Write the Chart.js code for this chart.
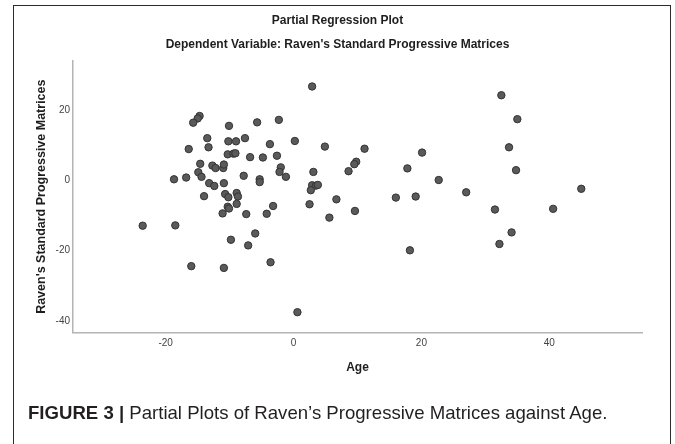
<!DOCTYPE html>
<html>
<head>
<meta charset="utf-8">
<script src="https://cdn.jsdelivr.net/npm/chart.js@4.4.1/dist/chart.umd.min.js"></script>
<style>
  html, body { margin: 0; padding: 0; background: #fff; }
  body { width: 675px; height: 444px; position: relative; overflow: hidden; font-family: "Liberation Sans", Arial, sans-serif; }
  .frame { position: absolute; left: 13px; top: 5px; width: 656px; height: 460px; border: 1.5px solid #2b2b2b; border-bottom: none; }
  #chart { position: absolute; left: 0; top: 0; }
  .caption { position: absolute; left: 28px; top: 402px; margin: 0; font-size: 18.6px; color: #231f20; white-space: nowrap; }
</style>
</head>
<body>
<div class="frame"></div>
<canvas id="chart" width="675" height="444"></canvas>
<p class="caption"><b>FIGURE 3 |</b> Partial Plots of Raven’s Progressive Matrices against Age.</p>
<script>
const FONT = `"Liberation Sans", Arial, sans-serif`;

// residuals (Age on x, Raven's SPM on y)
const ageResid = [
  2.9, -14.7, -15.0, -15.7, -5.7, -2.3, -10.1, -13.5, -10.2, -9.0,
  -7.6, 0.2, -3.7, -16.4, -13.3, 4.9, -10.3, -9.4, -9.1, -6.8,
  -4.8, -2.6, -14.6, -12.7, -12.2, -11.0, -10.9, -2.0, -2.2, -1.2,
  -14.9, -14.4, -16.8, -18.7, -7.8, -5.3, -5.3, 3.1, -13.2, -12.4,
  -10.9, 2.9, 3.5, 3.8, 2.7, -14.0, -10.7, -10.2, -8.9, -8.7,
  6.7, -8.9, -10.3, -10.1, -3.2, 2.5, -11.1, -7.4, -4.2, 5.6,
  -23.6, -18.5, -16.0, -10.9, -9.8, -7.1, -6.0, -3.6, 0.6, 9.6,
  16.0, 19.1, 31.5, 40.6, 34.1, 32.2, 18.2, 32.5, 35.0, 33.7,
  34.8, 45.0, 11.1, 20.1, 9.8, 9.5, 8.6, 17.8, 22.7, 27.0
];
const ravenResid = [
  26.7, 18.3, 17.6, 16.4, 16.5, 17.2, 15.5, 12.0, 11.1, 11.1,
  12.0, 11.2, 10.3, 8.9, 9.4, 9.6, 7.4, 7.6, 7.7, 6.6,
  6.5, 7.0, 4.7, 4.2, 3.5, 3.5, 4.5, 3.7, 2.4, 1.0,
  2.3, 1.0, 0.8, 0.3, 1.3, 0.3, -0.5, 2.4, -0.8, -1.6,
  -0.8, -1.4, -1.5, -1.3, -2.8, -4.5, -3.9, -4.8, -3.6, -4.6,
  -5.4, -6.7, -7.5, -8.0, -7.3, -6.8, -9.4, -9.6, -9.5, -10.6,
  -12.9, -12.8, -24.4, -24.9, -16.9, -18.5, -15.1, -23.3, -37.5, -8.7,
  -4.9, -4.6, -8.3, -8.1, -14.8, -18.1, -19.9, 24.2, 17.4, 9.4,
  2.9, -2.4, 9.0, 7.9, 5.3, 4.6, 2.6, 3.4, 0.1, -3.4
];

const xTicks = [-20, 0, 20, 40];
const yTicks = [-40, -20, 0, 20];

const points = ageResid.map((x, i) => ({x: x, y: ravenResid[i]}));

new Chart(document.getElementById(`chart`), {
  type: `scatter`,
  data: {
    datasets: [{
      data: points,
      backgroundColor: `#5a5a5a`,
      borderColor: `#333333`,
      borderWidth: 1,
      pointRadius: 3.7
    }]
  },
  options: {
    responsive: false,
    animation: false,
    layout: {
      // symmetric side padding keeps the titles centred on the page
      padding: {left: 33, right: 33, top: 0, bottom: 69}
    },
    plugins: {
      legend: {display: false},
      tooltip: {enabled: false},
      title: {
        display: true,
        text: `Partial Regression Plot`,
        color: `#1e1e1e`,
        font: {family: FONT, size: 12, weight: `bold`},
        padding: {top: 13, bottom: 10}
      },
      subtitle: {
        display: true,
        text: `Dependent Variable: Raven's Standard Progressive Matrices`,
        color: `#1e1e1e`,
        font: {family: FONT, size: 12, weight: `bold`},
        padding: {top: 0, bottom: 9}
      }
    },
    scales: {
      x: {
        type: `linear`,
        min: -34.5,
        max: 54.5,
        afterBuildTicks: (scale) => {
          scale.ticks = xTicks.map((v) => ({value: v}));
        },
        grid: {display: false, drawTicks: false},
        border: {color: `#b4b4b4`, width: 1.5},
        ticks: {font: {family: FONT, size: 10}, color: `#444`, padding: 5},
        title: {
          display: true,
          text: `Age`,
          color: `#1e1e1e`,
          font: {family: FONT, size: 12, weight: `bold`},
          padding: {top: 6, bottom: 0}
        }
      },
      y: {
        type: `linear`,
        min: -43.3,
        max: 34,
        afterBuildTicks: (scale) => {
          scale.ticks = yTicks.map((v) => ({value: v}));
        },
        afterFit: (scale) => {
          scale.width = 40;
        },
        grid: {display: false, drawTicks: false},
        border: {color: `#b4b4b4`, width: 1.5},
        ticks: {font: {family: FONT, size: 10}, color: `#444`, padding: 3},
        title: {
          display: true,
          text: `Raven's Standard Progressive Matrices`,
          color: `#1e1e1e`,
          font: {family: FONT, size: 12.5, weight: `bold`},
          padding: {top: 1.5, bottom: 0}
        }
      }
    }
  }
});
</script>
</body>
</html>
